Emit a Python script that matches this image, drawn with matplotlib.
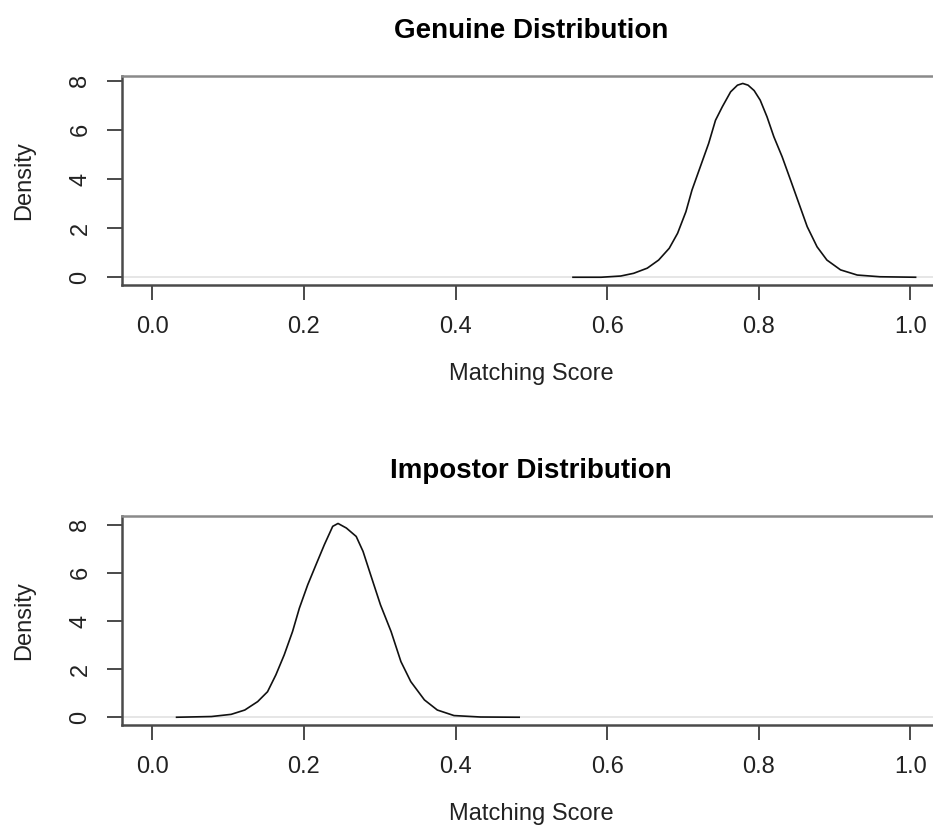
"""
Genuine vs impostor matching-score density curves, R base-graphics look.
"""
import matplotlib
matplotlib.use("Agg")
import matplotlib.pyplot as plt

plt.rcParams['font.family'] = ['Liberation Sans', 'DejaVu Sans']

# density curves
genuine_x = [0.555, 0.592, 0.618, 0.635, 0.653, 0.668, 0.682, 0.693, 0.704, 0.712,
             0.723, 0.734, 0.743, 0.752, 0.763, 0.772, 0.779, 0.786, 0.794, 0.802,
             0.811, 0.820, 0.831, 0.842, 0.853, 0.864, 0.877, 0.890, 0.908, 0.930,
             0.960, 1.007]
genuine_y = [0.0, 0.0, 0.05, 0.16, 0.37, 0.70, 1.18, 1.79, 2.67, 3.55,
             4.50, 5.45, 6.39, 6.94, 7.55, 7.82, 7.89, 7.82, 7.60, 7.21,
             6.53, 5.72, 4.90, 3.96, 3.01, 2.06, 1.24, 0.70, 0.30, 0.09,
             0.02, 0.0]

impostor_x = [0.032, 0.078, 0.104, 0.122, 0.139, 0.152, 0.163, 0.174, 0.185, 0.194,
              0.205, 0.216, 0.227, 0.238, 0.245, 0.256, 0.269, 0.278, 0.288, 0.301,
              0.315, 0.328, 0.341, 0.359, 0.376, 0.398, 0.433, 0.484]
impostor_y = [0.0, 0.03, 0.12, 0.30, 0.65, 1.06, 1.76, 2.59, 3.56, 4.53,
              5.50, 6.34, 7.17, 7.93, 8.05, 7.86, 7.51, 6.89, 5.92, 4.67,
              3.56, 2.31, 1.48, 0.72, 0.30, 0.07, 0.01, 0.0]

x_ticks = [0.0, 0.2, 0.4, 0.6, 0.8, 1.0]
y_ticks = [0, 2, 4, 6, 8]

W, H = 933, 827
fig = plt.figure(figsize=(W / 100, H / 100), dpi=100)

panels = [
    ("Genuine Distribution", genuine_x, genuine_y, 75.7, 285, max(genuine_y)),
    ("Impostor Distribution", impostor_x, impostor_y, 515.7, 725, max(impostor_y)),
]

for title, xs, ys, top, bot, ymax in panels:
    left, right = 122, 940.6
    ax = fig.add_axes([left / W, (H - bot) / H, (right - left) / W, (bot - top) / H])
    ax.axhline(0, color='#e2e2e2', lw=1.2, zorder=1)
    ax.plot(xs, ys, color='#111111', lw=1.2, zorder=2)
    ax.set_xlim(-0.04, 1.04)
    ax.set_ylim(-0.04 * ymax, 1.04 * ymax)
    ax.set_xticks(x_ticks)
    ax.set_xticklabels([f"{t:.1f}" for t in x_ticks])
    ax.set_yticks(y_ticks)
    ax.set_yticklabels([str(t) for t in y_ticks], rotation=90, va='center')
    for s in ax.spines.values():
        s.set_color('#4a4a4a')
        s.set_linewidth(1.8)
    ax.spines['top'].set_color('#8a8a8a')
    ax.tick_params(axis='both', direction='out', length=11, width=1.4,
                   color='#4a4a4a', labelsize=17, labelcolor='#222222')
    ax.tick_params(axis='x', pad=11)
    ax.tick_params(axis='y', pad=11)
    ax.set_xlabel("Matching Score", fontsize=17, labelpad=18, color='#222222')
    ax.set_ylabel("Density", fontsize=17, labelpad=25, color='#222222')
    ax.set_title(title, fontsize=20, fontweight='bold', pad=27)

fig.savefig("out.png", dpi=100)
